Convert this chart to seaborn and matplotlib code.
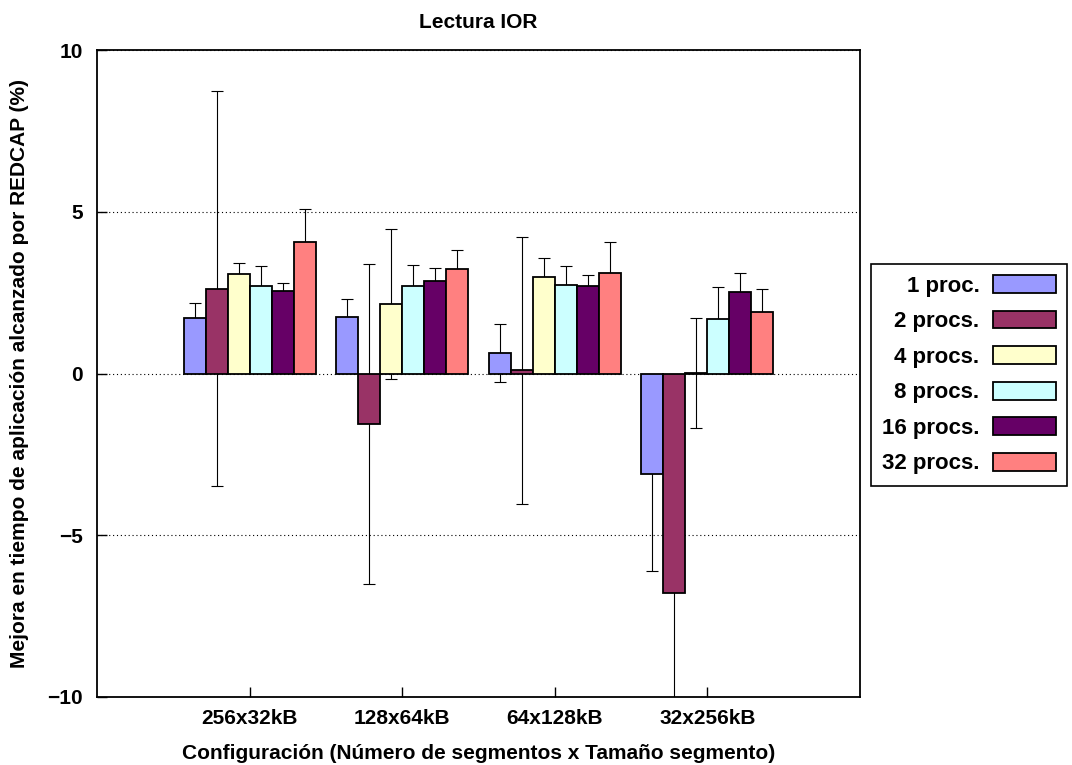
import matplotlib
matplotlib.use("Agg")
import matplotlib.pyplot as plt
import seaborn as sns
import pandas as pd

# ---- data ----
categories = ["256x32kB", "128x64kB", "64x128kB", "32x256kB"]
series_names = ["1 proc.", "2 procs.", "4 procs.", "8 procs.", "16 procs.", "32 procs."]
vals_1 = [1.72, 1.74, 0.64, -3.11]
vals_2 = [2.62, -1.56, 0.10, -6.78]
vals_4 = [3.08, 2.15, 2.99, 0.02]
vals_8 = [2.69, 2.70, 2.75, 1.70]
vals_16 = [2.54, 2.85, 2.71, 2.51]
vals_32 = [4.05, 3.22, 3.12, 1.90]
err_1 = [0.46, 0.55, 0.90, 3.00]
err_2 = [6.10, 4.95, 4.13, 3.80]
err_4 = [0.34, 2.33, 0.57, 1.70]
err_8 = [0.62, 0.66, 0.58, 0.98]
err_16 = [0.26, 0.40, 0.32, 0.60]
err_32 = [1.02, 0.59, 0.95, 0.70]
colors = ["#9999ff", "#993366", "#ffffcc", "#ccffff", "#660066", "#ff8080"]
y_ticks = [-10, -5, 0, 5, 10]

all_vals = [vals_1, vals_2, vals_4, vals_8, vals_16, vals_32]
all_errs = [err_1, err_2, err_4, err_8, err_16, err_32]

rows = []
for name, vals in zip(series_names, all_vals):
    for cat, v in zip(categories, vals):
        rows.append({"cfg": cat, "serie": name, "val": v})
df = pd.DataFrame(rows)

sns.set_style("white")
plt.rcParams["font.family"] = ["Liberation Sans", "DejaVu Sans"]
plt.rcParams["font.weight"] = "bold"
plt.rcParams["text.color"] = "black"
plt.rcParams["axes.labelcolor"] = "black"
plt.rcParams["xtick.color"] = "black"
plt.rcParams["ytick.color"] = "black"

fig = plt.figure(figsize=(10.72, 7.65), dpi=100)
ax = fig.add_axes([97 / 1072, 1 - 697 / 765, (860 - 97) / 1072, (697 - 50) / 765])

sns.barplot(data=df, x="cfg", y="val", hue="serie", order=categories,
            hue_order=series_names, palette=colors, saturation=1,
            errorbar=None, width=0.866, gap=0, edgecolor="black",
            linewidth=1.3, ax=ax)

for cont, errs, vals in zip(ax.containers, all_errs, all_vals):
    xs = []
    for p in cont:
        p.set_zorder(2)
        xs.append(p.get_x() + p.get_width() / 2)
    ax.errorbar(xs, vals, yerr=errs, fmt="none", ecolor="black",
                elinewidth=0.8, capsize=4, capthick=0.8, zorder=1.5)

ax.set_xlim(-1, 4)
ax.set_ylim(-10, 10)
ax.set_yticks(y_ticks)
ax.set_axisbelow(True)
ax.yaxis.grid(True, linestyle=(0, (1, 2.5)), color="black", linewidth=0.8)
ax.xaxis.grid(False)

for s in ax.spines.values():
    s.set_visible(True)
    s.set_color("black")
    s.set_linewidth(1.3)

ax.tick_params(axis="y", direction="in", length=7, width=1, pad=10,
               labelsize=15, left=True, right=False, colors="black")
ax.tick_params(axis="x", direction="in", length=7, width=1, pad=9,
               labelsize=15, bottom=True, top=False, colors="black")
for lab in ax.get_xticklabels() + ax.get_yticklabels():
    lab.set_fontweight("bold")

ax.set_xlabel("Configuración (Número de segmentos x Tamaño segmento)",
              fontsize=15, fontweight="bold", labelpad=11, color="black")
ax.set_ylabel("Mejora en tiempo de aplicación alcanzado por REDCAP (%)",
              fontsize=15, fontweight="bold", labelpad=13, color="black")
ax.set_title("Lectura IOR", fontsize=15, fontweight="bold", pad=16,
             color="black")

handles, labels = ax.get_legend_handles_labels()
ax.get_legend().remove()
leg = fig.legend(handles, labels, loc="upper left",
                 bbox_to_anchor=(871 / 1072, 1 - 264 / 765),
                 bbox_transform=fig.transFigure, markerfirst=False,
                 frameon=True, fancybox=False, shadow=False, framealpha=1,
                 prop={"size": 16, "weight": "bold"},
                 handlelength=2.85, handleheight=0.85, handletextpad=0.6,
                 labelspacing=0.63, borderpad=0.5, borderaxespad=0)
leg.get_frame().set_edgecolor("black")
leg.get_frame().set_linewidth(1.2)

fig.savefig("out.png", dpi=100)
